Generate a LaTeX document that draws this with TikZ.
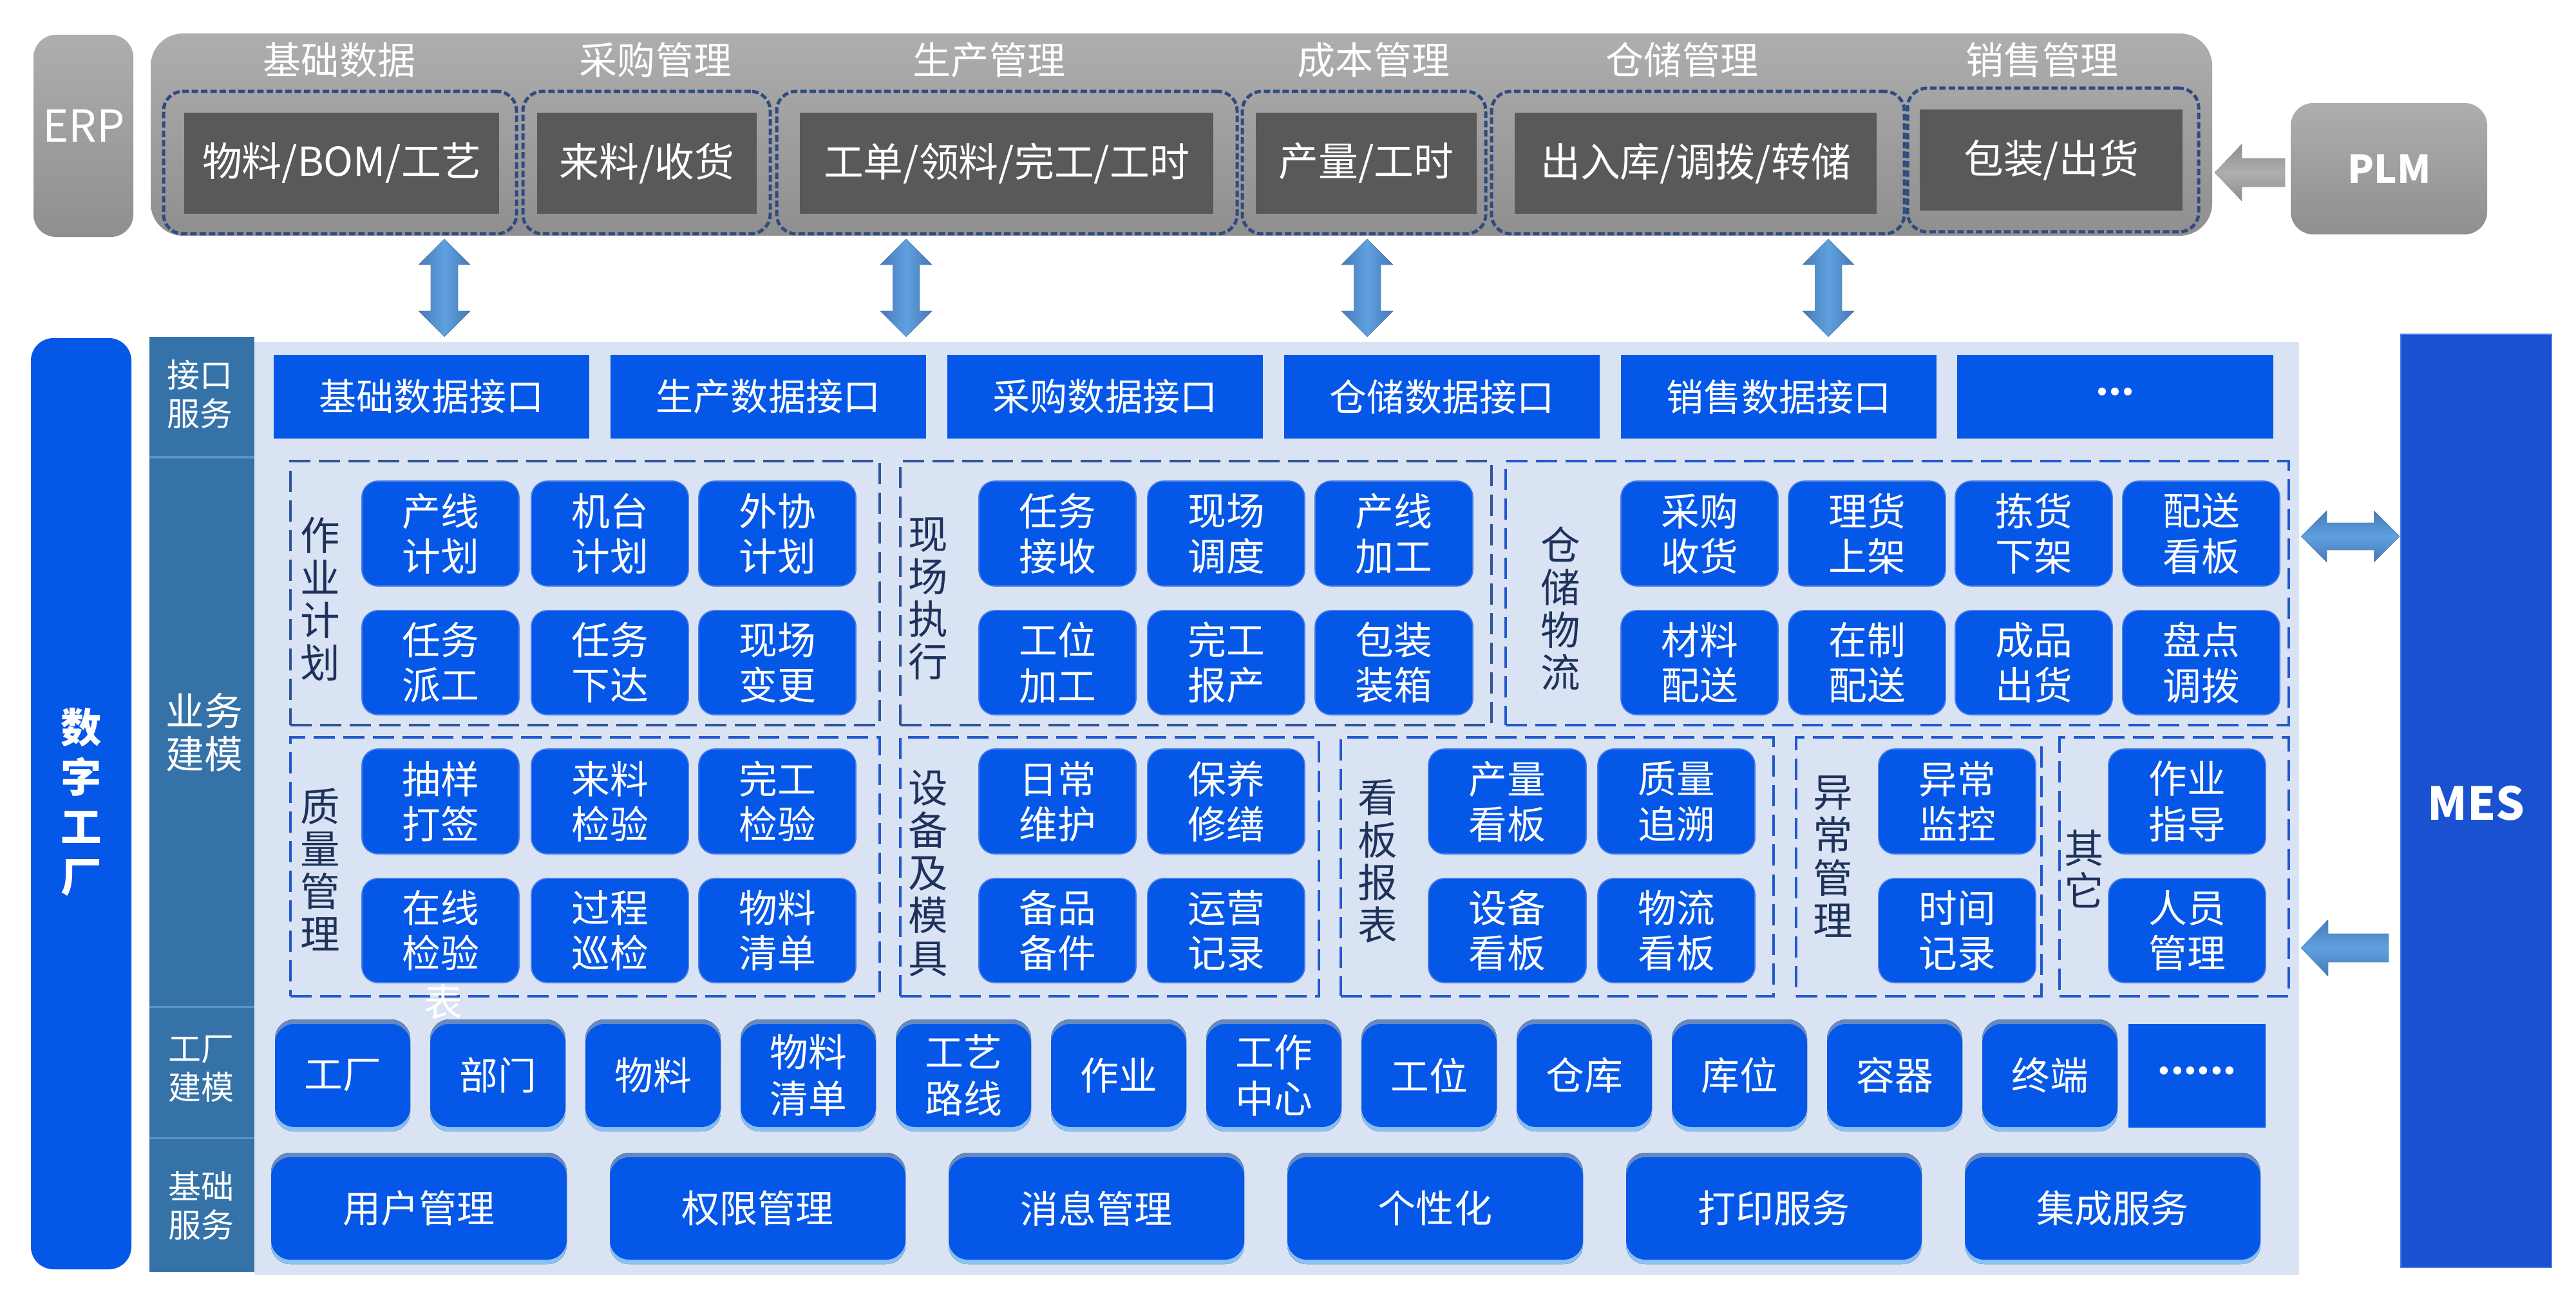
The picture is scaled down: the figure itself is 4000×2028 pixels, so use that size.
\documentclass[tikz,border=0pt]{standalone}
\usepackage{fontspec}
\setmainfont{Noto Sans CJK SC}
\usetikzlibrary{calc}
\definecolor{cblue}{RGB}{5,87,232}
\definecolor{cboxedge}{RGB}{70,125,230}
\definecolor{ccol}{RGB}{53,114,168}
\definecolor{ccoldiv}{RGB}{96,146,196}
\definecolor{clight}{RGB}{218,227,243}
\definecolor{cmes}{RGB}{25,81,209}
\definecolor{cdark}{RGB}{89,89,89}
\definecolor{cnavy}{RGB}{47,75,128}
\definecolor{cgrpnavy}{RGB}{47,85,151}
\definecolor{cgrpblue}{RGB}{34,88,205}
\definecolor{clbl}{RGB}{31,50,92}
\definecolor{carrow}{RGB}{95,160,222}
\definecolor{carrowdk}{RGB}{70,122,185}
\definecolor{cgreytop}{RGB}{174,174,174}
\definecolor{cgreybot}{RGB}{143,143,143}
\definecolor{cbevtop}{RGB}{100,135,190}
\definecolor{cbevbot}{RGB}{140,195,245}
\newcommand\md{·\kern-0.66em}
\newcommand\bx[7]{\node[#1,minimum width={(#5-#3)*0.01cm},minimum height={(#6-#4)*0.01cm}] (#2) at ({(#3+#5)/2},{(#4+#6)/2}) {#7};}
\newcommand\fbx[6]{\fill[rounded corners=0.3cm,top color=cbevtop,bottom color=cbevbot] (#2,#3-7) rectangle (#4,#5+7);
 \bx{facbox}{#1}{#2}{#3}{#4}{#5}{#6}}
\newcommand\vdarrow[2]{\fill[varrow] let \p1=(#1), \p2=(#2) in
 (\x1,\y1) -- (\x1+0.4cm,\y1-0.4cm) -- (\x1+0.21cm,\y1-0.4cm) -- (\x1+0.21cm,\y2+0.4cm) -- (\x1+0.4cm,\y2+0.4cm) -- (\x1,\y2)
 -- (\x1-0.4cm,\y2+0.4cm) -- (\x1-0.21cm,\y2+0.4cm) -- (\x1-0.21cm,\y1-0.4cm) -- (\x1-0.4cm,\y1-0.4cm) -- cycle;}
\newcommand\hdarrow[2]{\fill[harrow] let \p1=(#1), \p2=(#2) in
 (\x1,\y1) -- (\x1+0.4cm,\y1+0.4cm) -- (\x1+0.4cm,\y1+0.21cm) -- (\x2-0.4cm,\y1+0.21cm) -- (\x2-0.4cm,\y1+0.4cm) -- (\x2,\y1)
 -- (\x2-0.4cm,\y1-0.4cm) -- (\x2-0.4cm,\y1-0.21cm) -- (\x1+0.4cm,\y1-0.21cm) -- (\x1+0.4cm,\y1-0.4cm) -- cycle;}
\newcommand\hlarrow[3]{\fill[#3] let \p1=(#1), \p2=(#2) in
 (\x1,\y1) -- (\x1+0.42cm,\y1+0.44cm) -- (\x1+0.42cm,\y1+0.22cm) -- (\x2,\y1+0.22cm) -- (\x2,\y1-0.22cm)
 -- (\x1+0.42cm,\y1-0.22cm) -- (\x1+0.42cm,\y1-0.44cm) -- cycle;}
\begin{document}
\begin{tikzpicture}[x=0.01cm,y=-0.01cm,
 base/.style={inner sep=0pt,outer sep=0pt,align=center,text=white},
 topbar/.style={base,rounded corners=0.5cm,top color=cgreytop,bottom color=cgreybot},
 greybox/.style={base,rounded corners=0.35cm,top color=cgreytop,bottom color=cgreybot},
 tdash/.style={base,draw=cnavy,line width=0.05cm,dash pattern=on 0.1cm off 0.045cm,rounded corners=0.3cm},
 darkbox/.style={base,fill=cdark,font=\fontsize{17.6}{20}\selectfont},
 ttl/.style={base,font=\fontsize{16.8}{20}\selectfont},
 ifbox/.style={base,fill=cblue,font=\fontsize{16.5}{20}\selectfont},
 modbox/.style={base,fill=cblue,draw=cboxedge,line width=0.5pt,rounded corners=0.25cm,font=\fontsize{17}{20}\selectfont},
 facbox/.style={base,fill=cblue,rounded corners=0.3cm,font=\fontsize{17}{20.5}\selectfont},
 basebox/.style={base,fill=cblue,rounded corners=0.3cm,font=\fontsize{16.8}{20}\selectfont},
 grpn/.style={base,draw=cgrpnavy,line width=0.04cm,dash pattern=on 0.33cm off 0.13cm},
 grpb/.style={base,draw=cgrpblue,line width=0.04cm,dash pattern=on 0.33cm off 0.13cm},
 grplbl/.style={inner sep=0pt,align=center,text=clbl,font=\fontsize{17.5}{18.8}\selectfont},
 collbl/.style={inner sep=0pt,align=center,text=white,font=\fontsize{14.5}{17}\selectfont},
 varrow/.style={left color=carrowdk,right color=carrowdk,middle color=carrow},
 harrow/.style={top color=carrowdk,bottom color=carrowdk,middle color=carrow},
 greyarrow/.style={top color=cgreybot,bottom color=cgreybot,middle color=cgreytop}
]
\useasboundingbox (0,0) rectangle (4000,2028);

% ---------- top ERP area ----------
\bx{greybox}{erp}{52}{54}{207}{368}{}
\node[base,font=\fontsize{19.5}{22}\selectfont] (erptxt) at (130,195) {ERP};
\bx{topbar}{erpbar}{234}{52}{3435}{366}{}
\bx{tdash}{d1}{254}{142}{802}{363}{}
\bx{tdash}{d2}{812}{142}{1196}{363}{}
\bx{tdash}{d3}{1206}{142}{1921}{363}{}
\bx{tdash}{d4}{1929}{142}{2307}{363}{}
\bx{tdash}{d5}{2316}{142}{2957}{363}{}
\bx{tdash}{d6}{2962}{137}{3414}{360}{}
\bx{darkbox}{k1}{286}{175}{775}{332}{物料/BOM/工艺}
\bx{darkbox}{k2}{834}{175}{1175}{332}{来料/收货}
\bx{darkbox}{k3}{1242}{175}{1884}{332}{工单/领料/完工/工时}
\bx{darkbox}{k4}{1950}{175}{2293}{332}{产量/工时}
\bx{darkbox}{k5}{2352}{175}{2914}{332}{出入库/调拨/转储}
\bx{darkbox}{k6}{2981}{170}{3389}{327}{包装/出货}
\node[ttl] (t1) at (527,93) {基础数据};
\node[ttl] (t2) at (1018,93) {采购管理};
\node[ttl] (t3) at (1536,93) {生产管理};
\node[ttl] (t4) at (2133,93) {成本管理};
\node[ttl] (t5) at (2612,93) {仓储管理};
\node[ttl] (t6) at (3171,93) {销售管理};

% PLM
\bx{greybox}{plm}{3557}{160}{3862}{364}{}
\node[base,font=\bfseries\fontsize{17}{20}\selectfont] (plmtxt) at (3710,262) {PLM};
\coordinate (plmtip) at (3439,268);
\coordinate (plmtail) at (3548,268);
\hlarrow{plmtip}{plmtail}{greyarrow}

% ---------- left bars ----------
\bx{base,fill=cblue,rounded corners=0.35cm}{df}{48}{525}{204}{1971}{}
\node[base,font=\bfseries\fontsize{18}{22}\selectfont] (dftxt) at (126,1245) {数\\字\\工\\厂};
\bx{base,fill=ccol}{col}{232}{523}{395}{1975}{}
\bx{base,fill=clight}{bg}{395}{531}{3570}{1980}{}
\draw[ccoldiv,line width=0.03cm] (232,710) -- (395,710) (232,1563) -- (395,1563) (232,1767) -- (395,1767);
\node[collbl] (l1) at (310,612) {接口\\服务};
\node[collbl,font=\fontsize{17}{19}\selectfont] (l2) at (317,1137) {业务\\建模};
\node[collbl] (l3) at (312,1660) {工厂\\建模};
\node[collbl] (l4) at (312,1872) {基础\\服务};

% ---------- interface row ----------
\bx{ifbox}{if1}{425}{551}{915}{681}{基础数据接口}
\bx{ifbox}{if2}{948}{551}{1438}{681}{生产数据接口}
\bx{ifbox}{if3}{1471}{551}{1961}{681}{采购数据接口}
\bx{ifbox}{if4}{1994}{551}{2484}{681}{仓储数据接口}
\bx{ifbox}{if5}{2517}{551}{3007}{681}{销售数据接口}
\bx{ifbox}{if6}{3039}{551}{3530}{681}{\md\md·}

% vertical double arrows ERP <-> interfaces
\coordinate (a1t) at (690,371);  \coordinate (a1b) at (690,523);
\coordinate (a2t) at (1407,371); \coordinate (a2b) at (1407,523);
\coordinate (a3t) at (2123,371); \coordinate (a3b) at (2123,523);
\coordinate (a4t) at (2839,371); \coordinate (a4b) at (2839,523);
\vdarrow{a1t}{a1b}
\vdarrow{a2t}{a2b}
\vdarrow{a3t}{a3b}
\vdarrow{a4t}{a4b}

% ---------- groups ----------
\bx{grpn}{g1}{451}{716}{1366}{1126}{}
\bx{grpn}{g2}{1398}{716}{2316}{1126}{}
\bx{grpb}{g3}{2338}{716}{3554}{1126}{}
\bx{grpb}{g4}{451}{1145}{1366}{1547}{}
\bx{grpb}{g5}{1398}{1145}{2048}{1547}{}
\bx{grpb}{g6}{2082}{1145}{2754}{1547}{}
\bx{grpb}{g7}{2789}{1145}{3170}{1547}{}
\bx{grpb}{g8}{3198}{1145}{3554}{1547}{}
\node[grplbl] (gl1) at (497,930) {作\\业\\计\\划};
\node[grplbl] (gl2) at (1441,930) {现\\场\\执\\行};
\node[grplbl] (gl3) at (2423,945) {仓\\储\\物\\流};
\node[grplbl] (gl4) at (497,1350) {质\\量\\管\\理};
\node[grplbl] (gl5) at (1441,1356) {设\\备\\及\\模\\具};
\node[grplbl] (gl6) at (2139,1337) {看\\板\\报\\表};
\node[grplbl] (gl7) at (2846,1330) {异\\常\\管\\理};
\node[grplbl] (gl8) at (3236,1349) {其\\它};

% 作业计划
\bx{modbox}{m11}{562}{747}{806}{910}{产线\\计划}
\bx{modbox}{m12}{825}{747}{1069}{910}{机台\\计划}
\bx{modbox}{m13}{1085}{747}{1329}{910}{外协\\计划}
\bx{modbox}{m14}{562}{948}{806}{1110}{任务\\派工}
\bx{modbox}{m15}{825}{948}{1069}{1110}{任务\\下达}
\bx{modbox}{m16}{1085}{948}{1329}{1110}{现场\\变更}
% 现场执行
\bx{modbox}{m21}{1520}{747}{1764}{910}{任务\\接收}
\bx{modbox}{m22}{1782}{747}{2026}{910}{现场\\调度}
\bx{modbox}{m23}{2042}{747}{2287}{910}{产线\\加工}
\bx{modbox}{m24}{1520}{948}{1764}{1110}{工位\\加工}
\bx{modbox}{m25}{1782}{948}{2026}{1110}{完工\\报产}
\bx{modbox}{m26}{2042}{948}{2287}{1110}{包装\\装箱}
% 仓储物流
\bx{modbox}{m31}{2517}{747}{2761}{910}{采购\\收货}
\bx{modbox}{m32}{2777}{747}{3021}{910}{理货\\上架}
\bx{modbox}{m33}{3036}{747}{3280}{910}{拣货\\下架}
\bx{modbox}{m34}{3296}{747}{3540}{910}{配送\\看板}
\bx{modbox}{m35}{2517}{948}{2761}{1110}{材料\\配送}
\bx{modbox}{m36}{2777}{948}{3021}{1110}{在制\\配送}
\bx{modbox}{m37}{3036}{948}{3280}{1110}{成品\\出货}
\bx{modbox}{m38}{3296}{948}{3540}{1110}{盘点\\调拨}
% 质量管理
\bx{modbox}{m41}{562}{1163}{806}{1326}{抽样\\打签}
\bx{modbox}{m42}{825}{1163}{1069}{1326}{来料\\检验}
\bx{modbox}{m43}{1085}{1163}{1329}{1326}{完工\\检验}
\bx{modbox}{m44}{562}{1364}{806}{1526}{在线\\检验}
\bx{modbox}{m45}{825}{1364}{1069}{1526}{过程\\巡检}
\bx{modbox}{m46}{1085}{1364}{1329}{1526}{物料\\清单}
% 设备及模具
\bx{modbox}{m51}{1520}{1163}{1764}{1326}{日常\\维护}
\bx{modbox}{m52}{1782}{1163}{2026}{1326}{保养\\修缮}
\bx{modbox}{m53}{1520}{1364}{1764}{1526}{备品\\备件}
\bx{modbox}{m54}{1782}{1364}{2026}{1526}{运营\\记录}
% 看板报表
\bx{modbox}{m61}{2218}{1163}{2463}{1326}{产量\\看板}
\bx{modbox}{m62}{2481}{1163}{2725}{1326}{质量\\追溯}
\bx{modbox}{m63}{2218}{1364}{2463}{1526}{设备\\看板}
\bx{modbox}{m64}{2481}{1364}{2725}{1526}{物流\\看板}
% 异常管理
\bx{modbox}{m71}{2917}{1163}{3161}{1326}{异常\\监控}
\bx{modbox}{m72}{2917}{1364}{3161}{1526}{时间\\记录}
% 其它
\bx{modbox}{m81}{3274}{1163}{3518}{1326}{作业\\指导}
\bx{modbox}{m82}{3274}{1364}{3518}{1526}{人员\\管理}
\node[base,font=\fontsize{17}{20}\selectfont] (stray) at (688,1556) {表};

% ---------- factory modelling row ----------
\fbx{f1}{427}{1590}{637}{1750}{工厂}
\fbx{f2}{668}{1590}{878}{1750}{部门}
\fbx{f3}{909}{1590}{1119}{1750}{物料}
\fbx{f4}{1150}{1590}{1360}{1750}{物料\\清单}
\fbx{f5}{1391}{1590}{1601}{1750}{工艺\\路线}
\fbx{f6}{1632}{1590}{1842}{1750}{作业}
\fbx{f7}{1873}{1590}{2083}{1750}{工作\\中心}
\fbx{f8}{2114}{1590}{2324}{1750}{工位}
\fbx{f9}{2355}{1590}{2565}{1750}{仓库}
\fbx{f10}{2596}{1590}{2806}{1750}{库位}
\fbx{f11}{2837}{1590}{3047}{1750}{容器}
\fbx{f12}{3078}{1590}{3288}{1750}{终端}
\bx{base,fill=cblue,font=\fontsize{17}{20}\selectfont}{f13}{3305}{1590}{3518}{1751}{\md\md\md\md\md·}

% ---------- basic services row ----------
\fill[rounded corners=0.3cm,top color=cbevtop,bottom color=cbevbot] (421,1790) rectangle (880,1963);
\fill[rounded corners=0.3cm,top color=cbevtop,bottom color=cbevbot] (947,1790) rectangle (1406,1963);
\fill[rounded corners=0.3cm,top color=cbevtop,bottom color=cbevbot] (1473,1790) rectangle (1932,1963);
\fill[rounded corners=0.3cm,top color=cbevtop,bottom color=cbevbot] (1999,1790) rectangle (2458,1963);
\fill[rounded corners=0.3cm,top color=cbevtop,bottom color=cbevbot] (2525,1790) rectangle (2984,1963);
\fill[rounded corners=0.3cm,top color=cbevtop,bottom color=cbevbot] (3051,1790) rectangle (3510,1963);
\bx{basebox}{s1}{421}{1797}{880}{1956}{用户管理}
\bx{basebox}{s2}{947}{1797}{1406}{1956}{权限管理}
\bx{basebox}{s3}{1473}{1797}{1932}{1956}{消息管理}
\bx{basebox}{s4}{1999}{1797}{2458}{1956}{个性化}
\bx{basebox}{s5}{2525}{1797}{2984}{1956}{打印服务}
\bx{basebox}{s6}{3051}{1797}{3510}{1956}{集成服务}

% ---------- MES ----------
\bx{base,fill=cmes,draw=cboxedge,line width=0.5pt}{mes}{3728}{519}{3962}{1968}{}
\node[base,font=\bfseries\fontsize{20}{24}\selectfont] (mestxt) at (3845,1247) {MES};
\coordinate (mesL) at (3573,833);
\coordinate (mesR) at (3726,833);
\hdarrow{mesL}{mesR}
\coordinate (mes2tip) at (3573,1472);
\coordinate (mes2tail) at (3709,1472);
\hlarrow{mes2tip}{mes2tail}{harrow}
\end{tikzpicture}
\end{document}
